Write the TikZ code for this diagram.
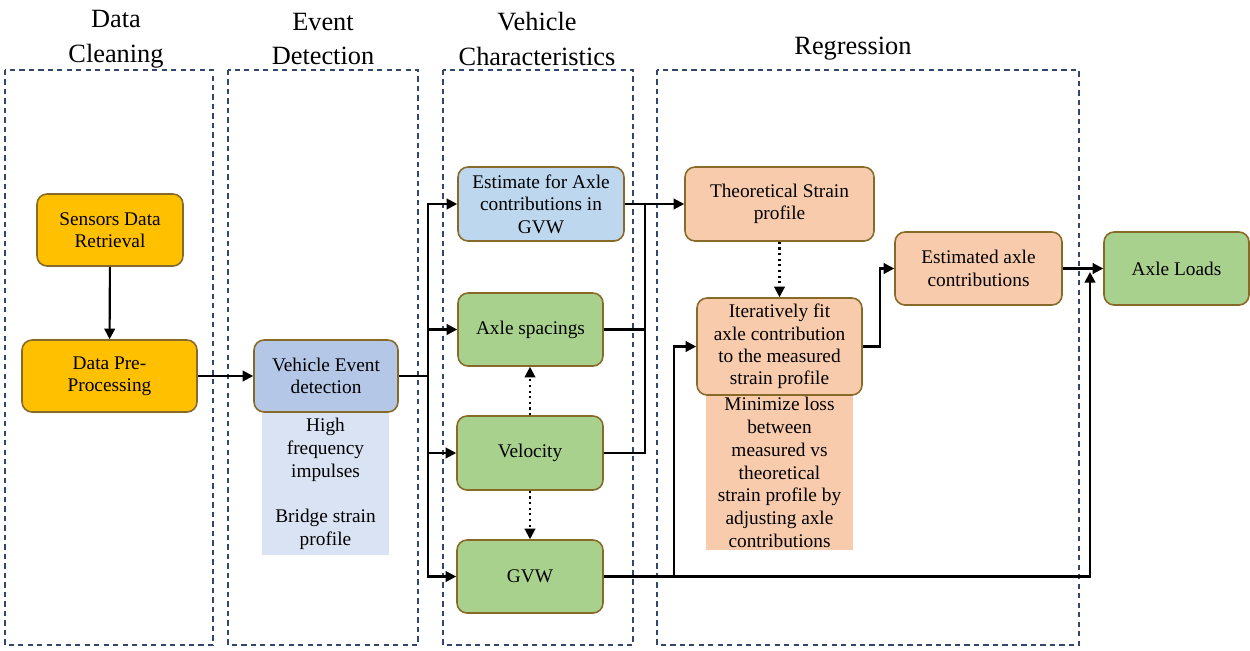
\documentclass[tikz,border=0pt]{standalone}
\usepackage{fontspec}
\setmainfont{Liberation Serif}
\usetikzlibrary{arrows.meta}
\definecolor{panelc}{RGB}{50,70,110}
\definecolor{bordc}{RGB}{135,105,40}
\definecolor{yel}{HTML}{FFC000}
\definecolor{blu}{HTML}{B4C7E7}
\definecolor{blulight}{HTML}{DAE3F3}
\definecolor{blu2}{HTML}{BDD7EE}
\definecolor{grn}{HTML}{A9D18E}
\definecolor{pch}{HTML}{F8CBAD}
\tikzset{
  panel/.style={draw=panelc, line width=0.8pt, dash pattern=on 3pt off 2.4pt},
  box/.style={draw=bordc, line width=0.9pt, rounded corners=0.2cm, align=center, inner sep=2pt,
    font=\fontsize{11}{12.8}\selectfont},
  note/.style={align=center, inner sep=0pt, font=\fontsize{11}{13}\selectfont},
  ttl/.style={align=center, font=\fontsize{15}{19.8}\selectfont},
  ln/.style={line width=1.2pt, black},
  arr/.style={ln, -{Triangle[length=6pt,width=6pt]}},
  darr/.style={line width=1.2pt, dotted, -{Triangle[length=6pt,width=6pt]}},
}
\begin{document}
\begin{tikzpicture}[x=0.02cm,y=-0.02cm]
\useasboundingbox (0,0) rectangle (1250,650);
% panels
\draw[panel] (5,70) rectangle (213,645);
\draw[panel] (228,70) rectangle (418,645);
\draw[panel] (443,70) rectangle (633,645);
\draw[panel] (657,70) rectangle (1079,645);
% titles
\node[ttl] (t1) at (116,39) {Data\\Cleaning};
\node[ttl] (t2) at (323,39) {Event\\Detection};
\node[ttl] (t3) at (537,39) {Vehicle\\Characteristics};
\node[ttl] (t4) at (853,49) {Regression};
% nodes
\node[box, fill=yel, minimum width=2.92cm, minimum height=1.44cm] (sdr) at (110,230) {Sensors Data\\Retrieval};
\node[box, fill=yel, minimum width=3.5cm, minimum height=1.44cm] (dpp) at (109.5,376) {Data Pre-\\Processing};
\node[note, fill=blulight, minimum width=2.54cm, minimum height=2.84cm] (vedn) at (325.5,484) {High\\frequency\\impulses\\[13pt]Bridge strain\\profile};
\node[box, fill=blu, minimum width=2.88cm, minimum height=1.44cm] (ved) at (326,376) {Vehicle Event\\detection};
\node[box, fill=blu2, minimum width=3.32cm, minimum height=1.48cm] (est) at (541,204) {Estimate for Axle\\contributions in\\GVW};
\node[box, fill=grn, minimum width=2.9cm, minimum height=1.46cm] (asp) at (530.5,329.5) {Axle spacings};
\node[box, fill=grn, minimum width=2.92cm, minimum height=1.48cm] (vel) at (530,453) {Velocity};
\node[box, fill=grn, minimum width=2.92cm, minimum height=1.46cm] (gvw) at (530,576.5) {GVW};
\node[box, fill=pch, minimum width=3.78cm, minimum height=1.48cm] (tsp) at (779.5,204) {Theoretical Strain\\profile};
\node[note, fill=pch, minimum width=2.94cm, minimum height=3.1cm] (mln) at (779.5,472.5) {Minimize loss\\between\\measured vs\\theoretical\\strain profile by\\adjusting axle\\contributions};
\node[box, fill=pch, minimum width=3.3cm, minimum height=1.94cm] (itf) at (779.5,346.5) {Iteratively fit\\axle contribution\\to the measured\\strain profile};
\node[box, fill=pch, minimum width=3.34cm, minimum height=1.46cm] (eac) at (978.5,268.5) {Estimated axle\\contributions};
\node[box, fill=grn, minimum width=2.9cm, minimum height=1.46cm] (axl) at (1176.5,268.5) {Axle Loads};
% junctions
\coordinate (j1) at (428,376);
\coordinate (j2) at (645,204);
\coordinate (j3) at (674,576.5);
\coordinate (j4) at (1090,272);
\coordinate (j5) at (880,346.5);
% connectors
\draw[arr] (sdr) -- (dpp);
\draw[arr] (dpp) -- (ved);
\draw[ln] (ved.east) -- (j1);
\draw[arr] (j1) |- (est);
\draw[arr] (j1) |- (asp);
\draw[arr] (j1) |- (vel);
\draw[arr] (j1) |- (gvw);
\draw[arr] (est) -- (tsp);
\draw[ln] (asp.east) -| (j2);
\draw[ln] (vel.east) -| (j2);
\draw[darr] (vel.north) -- (vel.north |- asp.south);
\draw[darr] (vel.south) -- (vel.south |- gvw.north);
\draw[darr] (tsp.south) -- (itf.north);
\draw[arr] (gvw.east) -| (j4);
\draw[arr] (j3) |- (itf);
\draw[arr] (itf.east) -- (j5) |- (eac);
\draw[arr] (eac) -- (axl);
\end{tikzpicture}
\end{document}
